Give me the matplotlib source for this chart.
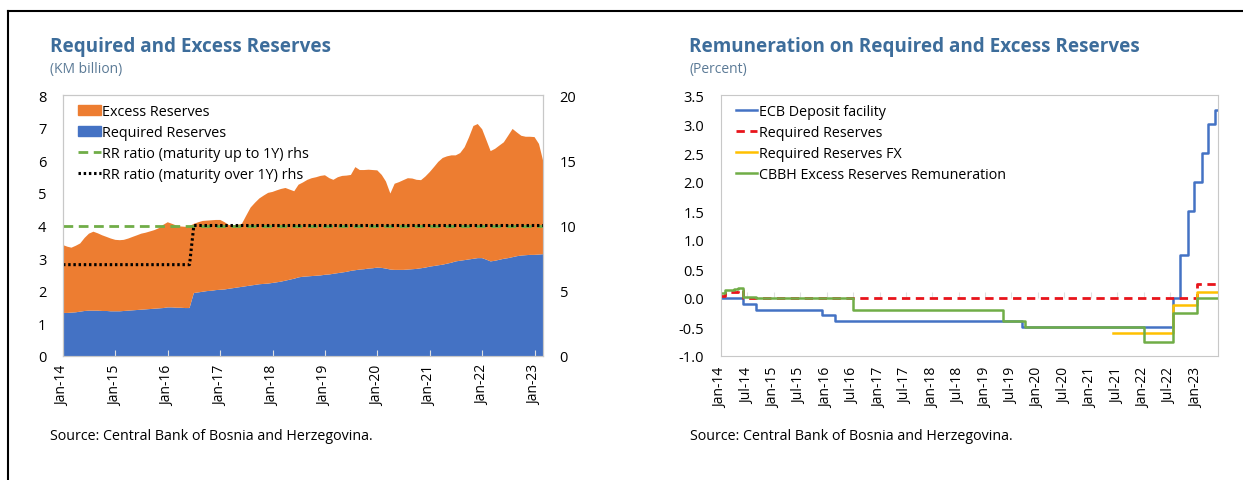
import numpy as np
import pandas as pd
import matplotlib
matplotlib.use('Agg')
import matplotlib.pyplot as plt
import matplotlib.dates as mdates
from matplotlib.patches import Patch
from matplotlib.lines import Line2D

plt.rcParams['font.family'] = ['Open Sans', 'DejaVu Sans']

# ---- left chart data (KM billion, monthly Jan-14 .. Mar-23)
months_left = pd.date_range('2014-01-01', '2023-03-01', freq='MS')

total_reserves = [
    3.40, 3.35, 3.32, 3.38, 3.45, 3.62, 3.75, 3.81, 3.76, 3.70, 3.65, 3.60,   # 2014
    3.56, 3.55, 3.56, 3.60, 3.65, 3.70, 3.75, 3.78, 3.82, 3.86, 3.92, 4.02,   # 2015
    4.10, 4.05, 4.00, 3.97, 3.96, 3.98, 4.05, 4.10, 4.14, 4.15, 4.16, 4.17,   # 2016
    4.17, 4.10, 4.02, 4.00, 4.02, 4.05, 4.30, 4.55, 4.70, 4.83, 4.92, 5.00,   # 2017
    5.03, 5.08, 5.12, 5.15, 5.10, 5.05, 5.25, 5.32, 5.40, 5.45, 5.48, 5.52,   # 2018
    5.54, 5.45, 5.40, 5.48, 5.52, 5.53, 5.55, 5.79, 5.70, 5.70, 5.71, 5.70,   # 2019
    5.69, 5.55, 5.35, 4.98, 5.28, 5.33, 5.39, 5.45, 5.44, 5.40, 5.39, 5.50,   # 2020
    5.64, 5.80, 5.95, 6.07, 6.12, 6.15, 6.15, 6.22, 6.40, 6.70, 7.05, 7.11,   # 2021
    6.95, 6.60, 6.28, 6.35, 6.45, 6.55, 6.75, 6.96, 6.85, 6.75, 6.72, 6.72,   # 2022
    6.71, 6.50, 6.00,                                                         # 2023
]
required_reserves = [
    1.32, 1.32, 1.33, 1.34, 1.36, 1.38, 1.39, 1.39, 1.39, 1.38, 1.38, 1.37,
    1.37, 1.37, 1.38, 1.39, 1.40, 1.41, 1.42, 1.43, 1.44, 1.45, 1.46, 1.47,
    1.49, 1.49, 1.48, 1.48, 1.47, 1.47, 1.93, 1.95, 1.97, 1.99, 2.00, 2.02,
    2.03, 2.04, 2.06, 2.08, 2.10, 2.12, 2.14, 2.16, 2.18, 2.20, 2.21, 2.22,
    2.24, 2.26, 2.28, 2.31, 2.34, 2.37, 2.41, 2.43, 2.44, 2.45, 2.46, 2.47,
    2.49, 2.50, 2.52, 2.54, 2.56, 2.58, 2.61, 2.63, 2.65, 2.66, 2.68, 2.69,
    2.71, 2.70, 2.68, 2.65, 2.64, 2.64, 2.64, 2.65, 2.66, 2.67, 2.69, 2.71,
    2.74, 2.76, 2.78, 2.80, 2.83, 2.86, 2.90, 2.92, 2.94, 2.96, 2.98, 3.00,
    3.00, 2.95, 2.90, 2.92, 2.95, 2.98, 3.00, 3.03, 3.06, 3.08, 3.09, 3.10,
    3.10, 3.11, 3.12,
]
excess_reserves = np.array(total_reserves) - np.array(required_reserves)

# RR ratios (percent, rhs)
rr_up_to_1y = [10.0] * len(months_left)
rr_over_1y = [7.0] * 30 + [10.0] * (len(months_left) - 30)

# ---- right chart data (percent), change points for step lines
ecb_dates = ['2014-01-01', '2014-06-01', '2014-09-01', '2015-12-01', '2016-03-01',
             '2019-09-15', '2022-07-22', '2022-09-05', '2022-11-01', '2022-12-14',
             '2023-02-05', '2023-03-20', '2023-05-05', '2023-05-28']
ecb_rates = [0.0, -0.10, -0.20, -0.30, -0.40, -0.50, 0.0, 0.75, 1.50, 2.00,
             2.50, 3.00, 3.25, 3.25]

rr_dates = ['2014-01-01', '2014-02-01', '2014-03-01', '2014-04-01', '2014-05-01',
            '2014-06-01', '2023-01-01', '2023-05-28']
rr_rates = [0.04, 0.09, 0.10, 0.11, 0.14, 0.0, 0.25, 0.25]

rrfx_dates = ['2021-06-01', '2022-07-22', '2023-01-01', '2023-05-28']
rrfx_rates = [-0.60, -0.12, 0.10, 0.10]

cbbh_dates = ['2014-01-01', '2014-02-01', '2014-03-01', '2014-04-01', '2014-05-01',
              '2014-06-01', '2014-09-01', '2016-07-01', '2019-05-01', '2019-10-01',
              '2022-01-01', '2022-07-22', '2023-01-01', '2023-05-28']
cbbh_rates = [0.08, 0.14, 0.13, 0.15, 0.18, 0.02, 0.0, -0.20, -0.40, -0.50,
              -0.75, -0.25, 0.0, 0.0]

# colours
BLUE = '#4472C4'
ORANGE = '#ED7D31'
GREEN = '#70AD47'
RED = '#E8141B'
YELLOW = '#FFC000'
TITLE = '#3D6D9B'
SUB = '#5B7A96'
SPINE = '#C8C8C8'

fig = plt.figure(figsize=(12.43, 4.81), dpi=100)

# frame lines of the original page
fig.add_artist(Line2D([8 / 1243, 1], [1 - 12 / 481] * 2, color='black', lw=1.5))
fig.add_artist(Line2D([8 / 1243] * 2, [0, 1 - 12 / 481], color='black', lw=1.5))

bottom = 1 - 357 / 481
height = (357 - 96) / 481

# ================= left chart
ax = fig.add_axes([63 / 1243, bottom, 480 / 1243, height])
ax.stackplot(months_left, required_reserves, excess_reserves,
             colors=[BLUE, ORANGE], linewidth=0)
ax.set_ylim(0, 8)
ax.set_xlim(months_left[0], months_left[-1])
ax.set_yticks(range(0, 9))
ax.xaxis.set_major_locator(mdates.MonthLocator(bymonth=1))
ax.xaxis.set_major_formatter(mdates.DateFormatter('%b-%y'))
ax.tick_params(axis='x', rotation=90, labelsize=10, direction='in', length=4,
               color='#E0E0E0', pad=6)
ax.tick_params(axis='y', length=0, labelsize=10.5, pad=12)

ax2 = ax.twinx()
ax2.plot(months_left, rr_up_to_1y, color=GREEN, lw=2, ls=(0, (3.5, 2)))
ax2.plot(months_left, rr_over_1y, color='black', lw=2.2, ls=(0, (0.8, 0.9)))
ax2.set_ylim(0, 20)
ax2.set_yticks([0, 5, 10, 15, 20])
ax2.tick_params(axis='y', length=0, labelsize=10.5, pad=12)

for a in (ax, ax2):
    for s in a.spines.values():
        s.set_color(SPINE)

handles = [Patch(color=ORANGE), Patch(color=BLUE),
           Line2D([], [], color=GREEN, lw=2, ls=(0, (3.5, 2))),
           Line2D([], [], color='black', lw=2.2, ls=(0, (0.8, 0.9)))]
labels = ['Excess Reserves', 'Required Reserves',
          'RR ratio (maturity up to 1Y) rhs', 'RR ratio (maturity over 1Y) rhs']
ax2.legend(handles, labels, loc='upper left', frameon=False, fontsize=10.4,
           handlelength=1.6, handletextpad=0.1, labelspacing=0.42,
           borderaxespad=0.3, bbox_to_anchor=(0.01, 1.005))

fig.text(50 / 1243, 1 - 47 / 481, 'Required and Excess Reserves', fontsize=13.6,
         fontweight='bold', color=TITLE, va='center')
fig.text(50 / 1243, 1 - 70 / 481, '(KM billion)', fontsize=10, color=SUB, va='center')
fig.text(50 / 1243, 1 - 437 / 481, 'Source: Central Bank of Bosnia and Herzegovina.',
         fontsize=10.3, va='center')

# ================= right chart
bx = fig.add_axes([721 / 1243, bottom, 497 / 1243, height])
to_d = pd.to_datetime
bx.step(to_d(ecb_dates), ecb_rates, where='post', color=BLUE, lw=1.8,
        label='ECB Deposit facility')
bx.step(to_d(rr_dates), rr_rates, where='post', color=RED, lw=2,
        ls=(0, (3, 2)), label='Required Reserves')
bx.step(to_d(rrfx_dates), rrfx_rates, where='post', color=YELLOW, lw=1.8,
        label='Required Reserves FX')
bx.step(to_d(cbbh_dates), cbbh_rates, where='post', color=GREEN, lw=1.8,
        label='CBBH Excess Reserves Remuneration')
bx.set_ylim(-1.0, 3.5)
bx.set_yticks(np.arange(-1.0, 3.51, 0.5))
bx.yaxis.set_major_formatter(plt.FormatStrFormatter('%.1f'))
bx.set_xlim(to_d('2014-01-01'), to_d('2023-05-28'))
bx.xaxis.set_major_locator(mdates.MonthLocator(bymonth=[1, 7]))
bx.xaxis.set_major_formatter(mdates.DateFormatter('%b-%y'))
bx.tick_params(axis='x', rotation=90, labelsize=10, length=0, pad=8)
bx.tick_params(axis='y', length=0, labelsize=10.5, pad=12)
for s in bx.spines.values():
    s.set_color(SPINE)

# small tick marks sitting on the zero line
zero_ax = bx.secondary_xaxis(1 / 4.5)
zero_ax.xaxis.set_major_locator(mdates.MonthLocator(bymonth=[1, 7]))
zero_ax.tick_params(direction='in', length=4, color='#E0E0E0', labelbottom=False)
zero_ax.spines['bottom'].set_visible(False)

bx.legend(loc='upper left', frameon=False, fontsize=10.25, handlelength=1.5,
          handletextpad=0.1, labelspacing=0.42, borderaxespad=0.3,
          bbox_to_anchor=(0.01, 1.005))

fig.text(689 / 1243, 1 - 47 / 481, 'Remuneration on Required and Excess Reserves',
         fontsize=13.6, fontweight='bold', color=TITLE, va='center')
fig.text(689 / 1243, 1 - 70 / 481, '(Percent)', fontsize=10, color=SUB, va='center')
fig.text(690 / 1243, 1 - 437 / 481, 'Source: Central Bank of Bosnia and Herzegovina.',
         fontsize=10.3, va='center')

fig.savefig('out.png', dpi=100)
